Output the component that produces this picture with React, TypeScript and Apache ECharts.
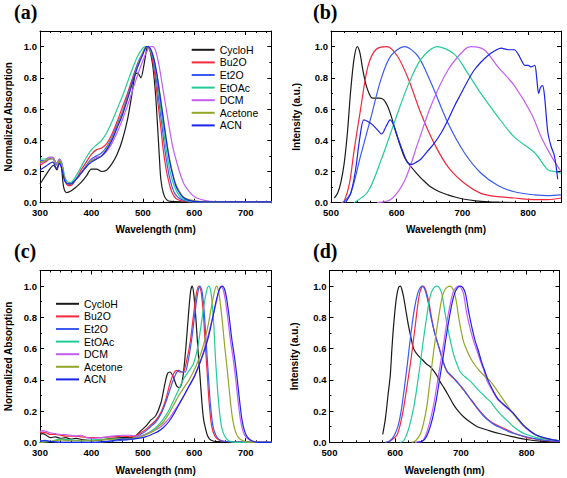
import React, { useEffect, useRef } from "react";
import * as echarts from "echarts";

// ---------- DATA ----------
const names = ["CycloH", "Bu2O", "Et2O", "EtOAc", "DCM", "Acetone", "ACN"];
const colors = ["#1a1a1a", "#f4283c", "#3b5bf0", "#22cc99", "#c45ef2", "#93a626", "#1a24e6"];
const xTitle = "Wavelength (nm)";
const yTitleAbs = "Normalized Absorption";
const yTitleEm = "Intensity (a.u.)";
const panelLabels = ["(a)", "(b)", "(c)", "(d)"];

// (a) absorption
const aCycloH = [[300,0.12],[310,0.17],[320,0.22],[326,0.24],[333,0.21],[338,0.27],[342,0.22],[346,0.1],[352,0.065],[360,0.075],[370,0.1],[380,0.13],[390,0.17],[400,0.215],[410,0.215],[420,0.2],[430,0.21],[440,0.25],[450,0.31],[460,0.4],[470,0.53],[478,0.68],[485,0.82],[490,0.83],[496,0.8],[502,0.88],[508,0.99],[511,1.0],[515,0.96],[520,0.86],[525,0.68],[529,0.47],[532,0.3],[535,0.15],[540,0.06],[546,0.02],[555,0.008],[600,0.005],[700,0.003],[750,0.003]];
const aBu2O = [[300,0.24],[310,0.26],[318,0.28],[325,0.29],[332,0.25],[338,0.28],[343,0.24],[348,0.15],[355,0.11],[360,0.11],[370,0.15],[380,0.21],[390,0.26],[400,0.31],[410,0.34],[420,0.35],[430,0.38],[440,0.44],[450,0.52],[460,0.61],[470,0.7],[480,0.8],[490,0.89],[500,0.96],[507,1.0],[512,0.99],[518,0.93],[524,0.8],[530,0.62],[535,0.48],[540,0.33],[545,0.22],[550,0.14],[555,0.08],[560,0.045],[565,0.025],[575,0.012],[600,0.005],[750,0.005]];
const aEt2O = [[300,0.27],[310,0.27],[318,0.28],[325,0.28],[332,0.24],[338,0.27],[343,0.23],[348,0.15],[355,0.12],[360,0.12],[370,0.15],[380,0.19],[390,0.24],[400,0.28],[410,0.3],[420,0.32],[430,0.36],[440,0.42],[450,0.5],[460,0.58],[470,0.68],[480,0.79],[490,0.89],[500,0.96],[508,1.0],[513,0.99],[520,0.92],[526,0.8],[532,0.63],[537,0.5],[542,0.36],[547,0.25],[552,0.16],[557,0.1],[562,0.06],[570,0.03],[580,0.015],[600,0.005],[750,0.005]];
const aEtOAc = [[300,0.28],[310,0.28],[318,0.29],[325,0.29],[332,0.25],[338,0.28],[343,0.25],[348,0.17],[355,0.13],[360,0.13],[370,0.17],[380,0.23],[390,0.29],[400,0.34],[410,0.37],[420,0.4],[430,0.45],[440,0.52],[450,0.6],[460,0.68],[470,0.77],[480,0.86],[490,0.94],[500,0.99],[505,1.0],[512,0.99],[520,0.93],[527,0.81],[533,0.65],[539,0.5],[544,0.37],[550,0.25],[556,0.16],[562,0.1],[568,0.06],[575,0.03],[585,0.015],[600,0.007],[750,0.005]];
const aDCM = [[300,0.25],[310,0.27],[318,0.29],[325,0.29],[332,0.25],[338,0.28],[343,0.24],[348,0.15],[355,0.12],[360,0.12],[370,0.15],[380,0.19],[390,0.23],[400,0.27],[410,0.29],[420,0.3],[430,0.33],[440,0.38],[450,0.45],[460,0.53],[470,0.62],[480,0.72],[490,0.82],[500,0.91],[508,0.97],[514,1.0],[520,1.0],[526,0.96],[532,0.87],[538,0.75],[545,0.61],[552,0.47],[558,0.36],[565,0.27],[572,0.19],[580,0.12],[588,0.08],[596,0.05],[605,0.03],[620,0.015],[640,0.007],[750,0.005]];
const aAcetone = [[300,0.26],[310,0.27],[318,0.28],[325,0.28],[332,0.24],[338,0.27],[343,0.23],[348,0.15],[355,0.12],[360,0.12],[370,0.15],[380,0.19],[390,0.23],[400,0.27],[410,0.28],[420,0.3],[430,0.35],[440,0.41],[450,0.49],[460,0.57],[470,0.67],[480,0.78],[490,0.88],[500,0.96],[507,1.0],[513,0.99],[520,0.94],[527,0.83],[534,0.68],[540,0.54],[546,0.4],[552,0.28],[558,0.19],[564,0.12],[570,0.08],[578,0.04],[590,0.02],[610,0.008],[750,0.005]];
const aACN = [[300,0.21],[310,0.23],[318,0.25],[325,0.26],[332,0.22],[338,0.25],[343,0.21],[348,0.14],[355,0.12],[360,0.12],[370,0.15],[380,0.19],[390,0.23],[400,0.26],[410,0.28],[420,0.3],[430,0.34],[440,0.4],[450,0.48],[460,0.56],[470,0.66],[480,0.77],[490,0.87],[500,0.95],[508,1.0],[514,0.99],[520,0.94],[527,0.83],[534,0.67],[540,0.53],[546,0.39],[552,0.27],[558,0.18],[564,0.11],[570,0.07],[578,0.035],[590,0.015],[610,0.007],[750,0.005]];

// (b) emission
const bCycloH = [[505,0.03],[510,0.06],[515,0.13],[520,0.25],[525,0.45],[530,0.72],[535,0.92],[540,1.0],[544,0.96],[548,0.86],[553,0.76],[558,0.7],[563,0.67],[568,0.67],[574,0.67],[580,0.66],[586,0.62],[592,0.55],[598,0.46],[605,0.37],[612,0.29],[620,0.24],[630,0.19],[640,0.145],[652,0.1],[665,0.07],[678,0.05],[690,0.035],[703,0.022],[720,0.012],[740,0.006],[760,0.003],[780,0]];
const bBu2O = [[515,0],[520,0.01],[528,0.12],[535,0.33],[545,0.6],[556,0.87],[568,0.98],[585,1.0],[601,0.94],[617,0.8],[637,0.57],[657,0.38],[678,0.23],[703,0.125],[728,0.06],[750,0.04],[779,0.03],[810,0.02],[830,0.02],[850,0.03]];
const bEt2O = [[518,0],[530,0.06],[545,0.3],[561,0.55],[576,0.79],[591,0.94],[612,1.0],[632,0.94],[652,0.77],[678,0.51],[703,0.32],[728,0.19],[754,0.11],[779,0.07],[810,0.05],[830,0.045],[850,0.05]];
const bEtOAc = [[535,0],[556,0.07],[576,0.27],[596,0.51],[617,0.75],[637,0.92],[662,1.0],[688,0.95],[708,0.83],[728,0.7],[754,0.55],[779,0.42],[810,0.32],[830,0.21],[840,0.2],[850,0.19]];
const bDCM = [[570,0],[591,0.02],[612,0.14],[632,0.38],[652,0.62],[678,0.85],[703,0.98],[713,1.0],[733,0.98],[754,0.87],[779,0.75],[805,0.57],[820,0.42],[835,0.3],[850,0.2]];
const bACN = [[522,0],[530,0.06],[537,0.2],[544,0.42],[550,0.53],[556,0.52],[563,0.5],[570,0.47],[577,0.44],[584,0.49],[590,0.53],[596,0.49],[603,0.4],[610,0.32],[616,0.26],[622,0.245],[630,0.26],[637,0.28],[647,0.33],[657,0.38],[668,0.45],[678,0.53],[688,0.62],[698,0.7],[708,0.78],[718,0.85],[728,0.9],[738,0.94],[748,0.97],[759,0.99],[769,0.98],[779,0.98],[785,0.95],[790,0.91],[795,0.88],[800,0.88],[805,0.87],[810,0.88],[813,0.8],[816,0.7],[819,0.74],[822,0.75],[825,0.68],[830,0.45],[835,0.36],[840,0.3],[845,0.15]];

// (c) absorption
const cCycloH = [[300,0.05],[305,0.055],[312,0.045],[320,0.03],[330,0.035],[340,0.025],[350,0.03],[360,0.02],[370,0.025],[385,0.015],[400,0.01],[420,0.015],[440,0.025],[460,0.03],[475,0.03],[485,0.04],[495,0.07],[505,0.1],[515,0.14],[525,0.17],[535,0.25],[542,0.36],[548,0.44],[553,0.45],[560,0.41],[566,0.36],[572,0.35],[578,0.42],[584,0.62],[589,0.83],[593,0.97],[596,1.0],[599,0.95],[603,0.8],[607,0.6],[611,0.43],[615,0.25],[618,0.15],[621,0.1],[626,0.04],[632,0.015],[645,0.004],[750,0]];
const cBu2O = [[300,0.06],[305,0.065],[312,0.06],[320,0.05],[330,0.05],[340,0.045],[350,0.04],[365,0.04],[380,0.035],[400,0.03],[420,0.03],[440,0.035],[460,0.04],[475,0.035],[485,0.04],[495,0.06],[505,0.08],[515,0.11],[525,0.14],[535,0.19],[545,0.28],[553,0.38],[560,0.44],[566,0.46],[572,0.45],[578,0.45],[585,0.52],[592,0.64],[598,0.8],[604,0.95],[609,1.0],[613,0.97],[617,0.85],[621,0.65],[625,0.45],[629,0.25],[634,0.1],[640,0.04],[648,0.015],[660,0.005],[750,0]];
const cEt2O = [[300,0.01],[310,0.012],[320,0.005],[340,0],[400,0],[450,0.01],[470,0.015],[485,0.03],[495,0.05],[505,0.07],[515,0.1],[525,0.13],[535,0.18],[545,0.26],[555,0.36],[563,0.43],[570,0.46],[576,0.45],[582,0.45],[588,0.52],[595,0.66],[601,0.82],[607,0.96],[611,1.0],[615,0.97],[619,0.85],[623,0.65],[627,0.45],[631,0.26],[636,0.11],[642,0.045],[650,0.015],[662,0.005],[750,0]];
const cEtOAc = [[300,0],[320,0.005],[340,0.02],[360,0.015],[380,0.01],[400,0.015],[430,0.02],[460,0.02],[480,0.02],[490,0.03],[500,0.045],[510,0.06],[520,0.08],[530,0.11],[540,0.15],[550,0.2],[560,0.27],[570,0.34],[580,0.41],[590,0.46],[598,0.5],[605,0.58],[612,0.72],[618,0.86],[624,0.97],[628,1.0],[632,0.97],[635,0.88],[638,0.75],[641,0.55],[645,0.35],[649,0.2],[653,0.1],[659,0.04],[667,0.01],[680,0],[750,0]];
const cDCM = [[300,0.07],[305,0.075],[312,0.07],[320,0.06],[330,0.055],[340,0.05],[350,0.05],[360,0.045],[370,0.04],[380,0.045],[390,0.03],[400,0.025],[420,0.03],[440,0.04],[460,0.045],[475,0.045],[485,0.04],[495,0.04],[505,0.05],[515,0.065],[525,0.08],[535,0.1],[545,0.13],[555,0.17],[565,0.22],[575,0.27],[585,0.33],[595,0.39],[605,0.46],[615,0.55],[625,0.66],[635,0.79],[643,0.9],[648,0.97],[652,1.0],[656,0.98],[660,0.92],[665,0.8],[670,0.66],[675,0.55],[680,0.42],[685,0.27],[690,0.14],[695,0.07],[700,0.035],[710,0.01],[720,0.003],[750,0]];
const cAcetone = [[300,0],[330,0.01],[340,0.015],[360,0.01],[380,0.01],[400,0.01],[420,0.015],[440,0.02],[460,0.02],[480,0.025],[490,0.03],[500,0.04],[510,0.055],[520,0.07],[530,0.1],[540,0.13],[550,0.18],[560,0.24],[570,0.3],[580,0.35],[590,0.4],[598,0.45],[605,0.5],[613,0.57],[620,0.65],[627,0.75],[633,0.86],[639,0.96],[643,1.0],[647,0.97],[651,0.88],[655,0.76],[659,0.62],[663,0.5],[667,0.37],[671,0.24],[675,0.14],[680,0.07],[686,0.03],[695,0.01],[710,0],[750,0]];
const cACN = [[300,0.005],[310,0.01],[320,0.005],[340,0],[400,0],[440,0.01],[460,0.02],[480,0.02],[490,0.025],[500,0.03],[510,0.04],[520,0.055],[530,0.07],[540,0.095],[550,0.13],[560,0.18],[570,0.24],[580,0.3],[590,0.36],[600,0.42],[610,0.5],[620,0.59],[628,0.68],[636,0.8],[643,0.91],[649,0.98],[655,1.0],[659,0.98],[663,0.92],[668,0.8],[673,0.66],[678,0.55],[683,0.42],[688,0.27],[693,0.14],[698,0.07],[703,0.035],[712,0.01],[725,0],[750,0]];

// (d) emission
const dCycloH = [[581,0.05],[585,0.15],[589,0.3],[592.5,0.43],[595,0.6],[597.6,0.75],[601.6,0.92],[605,0.99],[608,1.0],[610,0.98],[612.8,0.93],[616,0.85],[620,0.75],[624,0.67],[628,0.6],[634,0.56],[641,0.53],[648,0.5],[653,0.485],[658,0.46],[663,0.43],[668,0.39],[674,0.35],[681,0.3],[689,0.24],[696,0.2],[704,0.164],[714,0.13],[725,0.1],[735,0.085],[745,0.072],[760,0.055],[780,0.035],[800,0.018],[820,0.008],[850,0.003]];
const dBu2O = [[590,0],[596,0.02],[602.7,0.047],[608,0.12],[612.8,0.22],[618,0.36],[623,0.5],[627,0.63],[630.6,0.75],[634,0.87],[637,0.95],[640,0.99],[643,1.0],[646,0.98],[651,0.9],[656,0.78],[660,0.7],[664,0.645],[667,0.6],[671,0.54],[675,0.49],[679,0.45],[686,0.42],[694,0.39],[701,0.35],[709,0.31],[717,0.26],[725,0.22],[733,0.18],[740,0.15],[750,0.12],[760,0.1],[770,0.08],[780,0.06],[790,0.045],[800,0.03],[815,0.02],[830,0.01],[850,0.005]];
const dEt2O = [[585,0],[592,0.01],[598,0.04],[604,0.1],[609,0.2],[614,0.35],[619,0.52],[624,0.7],[629,0.85],[634,0.95],[638,0.99],[641,1.0],[645,0.98],[650,0.9],[655,0.79],[660,0.7],[664,0.64],[668,0.59],[672,0.53],[676,0.48],[680,0.45],[687,0.42],[695,0.38],[702,0.35],[710,0.3],[718,0.26],[726,0.21],[734,0.17],[742,0.14],[752,0.11],[762,0.09],[772,0.07],[782,0.055],[795,0.04],[810,0.025],[830,0.012],[850,0.005]];
const dEtOAc = [[608,0],[613,0.01],[620,0.08],[628,0.22],[633,0.35],[638,0.5],[643,0.66],[648.5,0.82],[652,0.91],[656,0.97],[663,1.0],[667,0.99],[671,0.95],[675,0.85],[679,0.75],[684,0.65],[689,0.56],[694,0.5],[699,0.45],[706,0.42],[714.5,0.39],[722,0.355],[730,0.32],[737,0.29],[745,0.26],[752,0.22],[760,0.18],[770,0.14],[780,0.1],[790,0.07],[800,0.05],[815,0.03],[830,0.02],[850,0.01]];
const dAcetone = [[625,0],[631,0.01],[638,0.05],[643,0.12],[648.5,0.24],[652,0.36],[656,0.5],[661,0.66],[666,0.8],[671,0.92],[676,0.98],[683,1.0],[689,0.97],[693,0.9],[696.6,0.8],[700,0.72],[704,0.645],[709,0.59],[714.5,0.54],[722,0.49],[730,0.45],[737,0.42],[745,0.39],[752,0.35],[760,0.3],[770,0.24],[780,0.18],[790,0.13],[800,0.09],[810,0.06],[820,0.035],[835,0.02],[850,0.01]];
const dDCM = [[630,0],[636,0.003],[641,0.007],[646,0.04],[652,0.12],[658.5,0.24],[664,0.38],[668.7,0.5],[674,0.64],[679,0.78],[684,0.89],[689,0.97],[696,1.0],[700,0.99],[704,0.95],[709,0.82],[714,0.73],[719.5,0.645],[725,0.58],[729.7,0.52],[735,0.46],[740,0.39],[748,0.33],[755,0.28],[762,0.25],[770,0.22],[778,0.19],[786,0.15],[794,0.11],[802,0.08],[812,0.05],[825,0.03],[840,0.015],[850,0.01]];
const dACN = [[633,0],[640,0.005],[645,0.02],[650,0.06],[656,0.14],[662,0.26],[667,0.39],[672,0.52],[677,0.66],[682,0.79],[687,0.9],[692,0.97],[699,1.0],[703,0.99],[707,0.95],[712,0.83],[717,0.73],[722,0.645],[727,0.58],[731,0.52],[736,0.46],[742,0.39],[749,0.33],[756,0.28],[763,0.25],[771,0.22],[779,0.19],[787,0.15],[795,0.11],[803,0.08],[813,0.05],[826,0.03],[840,0.015],[850,0.01]];

const xRangeAbs = [300, 750];
const xRangeEm = [500, 850];
const yRange = [0, 1.1];

// ---------- CHART ----------
const FONT = "Liberation Sans, Arial, sans-serif";

const grids = [
  { left: 40, top: 31, width: 231.4, height: 171.7 },
  { left: 331, top: 31, width: 230, height: 171.7 },
  { left: 40, top: 270.5, width: 231.4, height: 171.8 },
  { left: 329.5, top: 270.5, width: 230, height: 171.8 },
];

const axisLine = { show: true, onZero: false, lineStyle: { color: "#000", width: 1 } };
const tick = { show: true, inside: true, length: 4, lineStyle: { color: "#000", width: 1 } };

function xAxes(gi: number, range: number[], nameGap: number) {
  const base = {
    type: "value",
    gridIndex: gi,
    min: range[0],
    max: range[1],
    interval: 100,
    axisLine,
    axisTick: tick,
    minorTick: { show: true, splitNumber: 5, length: 2, lineStyle: { color: "#000", width: 1 } },
    splitLine: { show: false },
  };
  return [
    {
      ...base,
      position: "bottom",
      name: xTitle,
      nameLocation: "middle",
      nameGap,
      nameTextStyle: { fontFamily: FONT, fontWeight: "bold", fontSize: 10, color: "#000" },
      axisLabel: {
        show: true,
        margin: 5,
        fontFamily: FONT,
        fontWeight: "bold",
        fontSize: 9.5,
        color: "#000",
        formatter: (v: number) => (Math.abs(v % 100) < 1e-6 ? String(v) : ""),
      },
    },
    { ...base, position: "top", axisLabel: { show: false } },
  ];
}

function yAxes(gi: number, title: string, nameGap: number) {
  const base = {
    type: "value",
    gridIndex: gi,
    min: yRange[0],
    max: yRange[1],
    interval: 0.2,
    axisLine,
    axisTick: tick,
    minorTick: { show: true, splitNumber: 2, length: 2, lineStyle: { color: "#000", width: 1 } },
    splitLine: { show: false },
  };
  return [
    {
      ...base,
      position: "left",
      name: title,
      nameLocation: "middle",
      nameGap,
      nameRotate: 90,
      nameTextStyle: { fontFamily: FONT, fontWeight: "bold", fontSize: 10, color: "#000" },
      axisLabel: {
        show: true,
        margin: 3,
        fontFamily: FONT,
        fontWeight: "bold",
        fontSize: 9.5,
        color: "#000",
        formatter: (v: number) => (v > 1.05 ? "" : v.toFixed(1)),
      },
    },
    { ...base, position: "right", axisLabel: { show: false } },
  ];
}

const panelData = [
  [aCycloH, aBu2O, aEt2O, aEtOAc, aDCM, aAcetone, aACN],
  [bCycloH, bBu2O, bEt2O, bEtOAc, bDCM, null, bACN],
  [cCycloH, cBu2O, cEt2O, cEtOAc, cDCM, cAcetone, cACN],
  [dCycloH, dBu2O, dEt2O, dEtOAc, dDCM, dAcetone, dACN],
];

function buildOption() {
  const series: any[] = [];
  panelData.forEach((list, gi) => {
    list.forEach((data, si) => {
      if (!data) return;
      series.push({
        type: "line",
        name: names[si],
        data,
        xAxisIndex: gi * 2,
        yAxisIndex: gi * 2,
        symbol: "none",
        smooth: 0.3,
        clip: true,
        lineStyle: { width: 1.2, color: colors[si] },
        itemStyle: { color: colors[si] },
      });
    });
  });

  const legendBase = {
    orient: "vertical",
    data: names,
    icon: "rect",
    itemWidth: 23,
    itemHeight: 2,
    itemGap: 1,
    selectedMode: false,
    padding: 0,
    textStyle: { fontFamily: FONT, fontSize: 10.5, color: "#000", lineHeight: 11.6 },
  };

  const labelPos = [
    [14, 2],
    [313, 2],
    [14, 241],
    [313, 241],
  ];

  return {
    animation: false,
    backgroundColor: "#fff",
    grid: grids.map((g) => ({ ...g, containLabel: false })),
    xAxis: [
      ...xAxes(0, xRangeAbs, 22),
      ...xAxes(1, xRangeEm, 22),
      ...xAxes(2, xRangeAbs, 23),
      ...xAxes(3, xRangeEm, 23),
    ],
    yAxis: [
      ...yAxes(0, yTitleAbs, 27),
      ...yAxes(1, yTitleEm, 30),
      ...yAxes(2, yTitleAbs, 27),
      ...yAxes(3, yTitleEm, 30),
    ],
    legend: [
      { ...legendBase, left: 191.7, top: 44 },
      { ...legendBase, left: 56, top: 298 },
    ],
    graphic: panelLabels.map((t, i) => ({
      type: "text",
      left: labelPos[i][0],
      top: labelPos[i][1],
      style: {
        text: t,
        fill: "#000",
        font: "bold 20px 'Liberation Serif', 'Times New Roman', serif",
      },
    })),
    series,
  };
}

export default function App() {
  const ref = useRef<HTMLDivElement>(null);
  useEffect(() => {
    document.body.style.margin = "0";
    if (!ref.current) return;
    const chart = echarts.init(ref.current, undefined, { renderer: "svg" });
    chart.setOption(buildOption() as any);
    return () => chart.dispose();
  }, []);
  return (
    <div
      ref={ref}
      style={{ position: "absolute", left: 0, top: 0, width: 567, height: 478, background: "#fff" }}
    />
  );
}
